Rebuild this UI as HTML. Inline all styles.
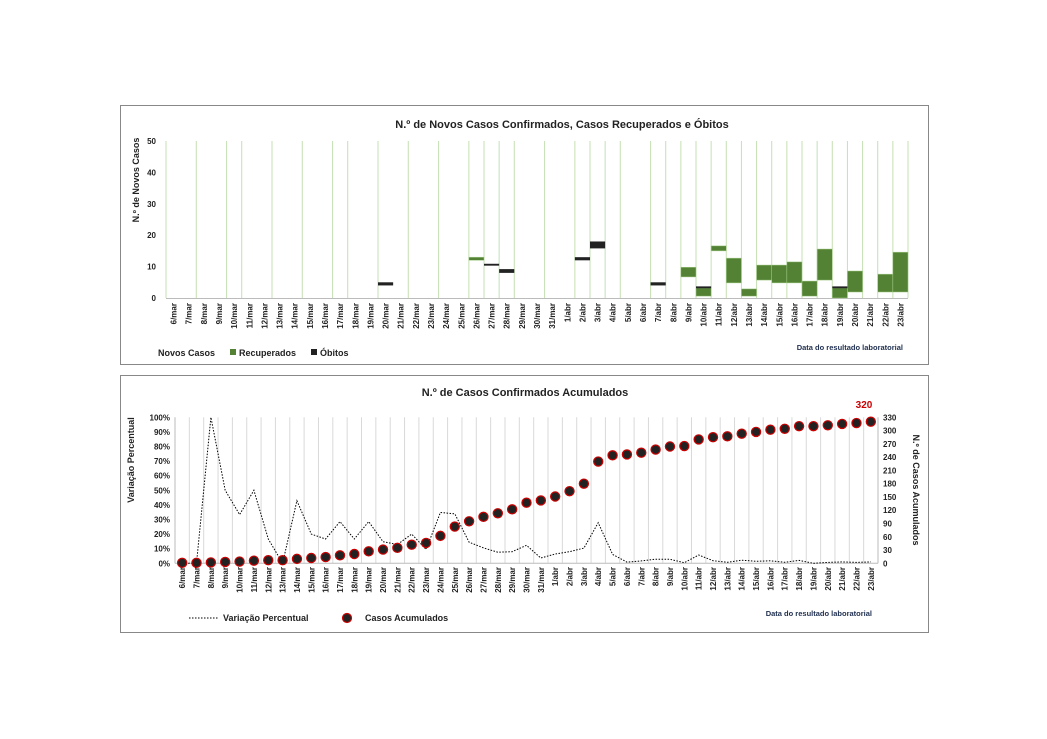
<!DOCTYPE html>
<html><head><meta charset="utf-8"><style>
html,body{margin:0;padding:0;background:#fff;}
svg{display:block;font-family:"Liberation Sans",sans-serif;}
</style></head><body>
<svg id="s" width="1047" height="739" viewBox="0 0 1047 739" xmlns="http://www.w3.org/2000/svg">
<rect x="120.5" y="105.5" width="808" height="259" fill="#fff" stroke="#888"/>
<rect x="120.5" y="375.5" width="808" height="257" fill="#fff" stroke="#888"/>
<text x="562" y="128" text-anchor="middle" font-size="11" font-weight="bold" fill="#222">N.º de Novos Casos Confirmados, Casos Recuperados e Óbitos</text>
<text x="525" y="396" text-anchor="middle" font-size="11" font-weight="bold" fill="#222">N.º de Casos Confirmados Acumulados</text>
<text transform="translate(139,180) rotate(-90)" text-anchor="middle" font-size="9" font-weight="bold" fill="#222">N.º de Novos Casos</text>
<text transform="translate(134,460) rotate(-90)" text-anchor="middle" font-size="9" font-weight="bold" fill="#222">Variação Percentual</text>
<text transform="translate(913,490) rotate(90)" text-anchor="middle" font-size="9" font-weight="bold" fill="#222">N.º de Casos Acumulados</text>
<text x="903" y="350" text-anchor="end" font-size="7.5" font-weight="bold" fill="#1f2f4f">Data do resultado laboratorial</text>
<text x="872" y="616" text-anchor="end" font-size="7.5" font-weight="bold" fill="#1f2f4f">Data do resultado laboratorial</text>
<text x="158" y="356" font-size="9" font-weight="bold" fill="#222">Novos Casos</text>
<rect x="230" y="349" width="6" height="6" fill="#548235"/>
<text x="239" y="356" font-size="9" font-weight="bold" fill="#222">Recuperados</text>
<rect x="311" y="349" width="6" height="6" fill="#222"/>
<text x="320" y="356" font-size="9" font-weight="bold" fill="#222">Óbitos</text>
<line x1="189" y1="618" x2="219" y2="618" stroke="#000" stroke-dasharray="1.5,1.5"/>
<text x="223" y="621" font-size="9" font-weight="bold" fill="#222">Variação Percentual</text>
<circle cx="347" cy="618" r="4.5" fill="#222" stroke="#c00" stroke-width="1.2"/>
<text x="365" y="621" font-size="9" font-weight="bold" fill="#222">Casos Acumulados</text>
<text x="864" y="408" text-anchor="middle" font-size="10" font-weight="bold" fill="#c00">320</text>
<g id="g"></g>
</svg>
<script>
var g=document.getElementById('g'),h='';
var labels=[];for(var i=6;i<=31;i++)labels.push(i+'/mar');for(var i=1;i<=23;i++)labels.push(i+'/abr');
// top chart
var X0=166,W=(908-166)/49,Y0=298,SY=(298-141)/50;
var present=[0,2,4,5,7,9,11,12,14,16,18,20,21,22,23,25,27,28,29,30];for(var k=32;k<=49;k++)present.push(k);
present.forEach(function(k){var x=X0+k*W;h+='<line x1="'+x+'" y1="141" x2="'+x+'" y2="298" stroke="#c5e0b4" stroke-width="1"/>';});
for(var v=0;v<=50;v+=10){var y=Y0-v*SY;h+='<text x="156" y="'+(y+3)+'" text-anchor="end" font-size="8" font-weight="bold" fill="#222">'+v+'</text>';}
h+='<line x1="166" y1="298.5" x2="908" y2="298.5" stroke="#bbb"/>';
var G=[[20,12,13],[34,6.7,9.8],[35,0.6,3.2],[36,15,16.6],[37,4.8,12.7],[38,0.6,2.9],[39,5.7,10.5],[40,4.8,10.5],[41,4.8,11.5],[42,0.6,5.4],[43,5.7,15.6],[44,0,3.2],[45,1.9,8.6],[47,1.9,7.6],[48,1.9,14.6]];
G.forEach(function(b){var y1=Y0-b[2]*SY,y2=Y0-b[1]*SY;h+='<rect x="'+(X0+b[0]*W)+'" y="'+y1+'" width="'+W+'" height="'+(y2-y1)+'" fill="#548235" stroke="#a9d18e" stroke-width="0.5"/>';});
var B=[[14,4,5],[21,10.3,10.9],[22,8,9.2],[27,12,13],[28,15.8,18],[32,4,5],[35,3.1,3.7],[44,3.1,3.7]];
B.forEach(function(b){var y1=Y0-b[2]*SY,y2=Y0-b[1]*SY;h+='<rect x="'+(X0+b[0]*W)+'" y="'+y1+'" width="'+W+'" height="'+(y2-y1)+'" fill="#222"/>';});
labels.forEach(function(l,i){var x=X0+(i+0.5)*W+3;h+='<text transform="translate('+x+',303) rotate(-90)" text-anchor="end" font-size="8" font-weight="bold" fill="#222">'+l+'</text>';});
// bottom chart
var X1=175,W2=(878-175)/49,Z=563.3,T=417.3,H=Z-T;
for(var k=1;k<49;k++){var x=X1+k*W2;h+='<line x1="'+x+'" y1="'+T+'" x2="'+x+'" y2="'+Z+'" stroke="#d9d9d9"/>';}
h+='<line x1="175" y1="'+T+'" x2="175" y2="'+Z+'" stroke="#bbb"/><line x1="878" y1="'+T+'" x2="878" y2="'+Z+'" stroke="#bbb"/><line x1="175" y1="'+Z+'" x2="878" y2="'+Z+'" stroke="#bbb"/>';
for(var p=0;p<=100;p+=10){var y=Z-p/100*H;h+='<text x="170" y="'+(y+3)+'" text-anchor="end" font-size="8" font-weight="bold" fill="#222">'+p+'%</text>';}
for(var v=0;v<=330;v+=30){var y=Z-v/330*H;h+='<text x="883" y="'+(y+3)+'" font-size="8" font-weight="bold" fill="#222">'+v+'</text>';}
var C=[1,1,2,3,4,6,7,7,10,12,14,18,21,27,31,35,42,46,62,83,95,105,113,122,137,142,151,163,180,230,244,246,250,257,264,265,280,285,287,293,297,302,304,310,310,312,315,317,320];
var pts=[];C.forEach(function(c,i){var pr=i==0?0:(c-C[i-1])/C[i-1];if(i==1)pr=0;pts.push((X1+(i+0.5)*W2).toFixed(1)+','+(Z-Math.min(pr,1)*H).toFixed(1));});
h+='<polyline points="'+pts.join(' ')+'" fill="none" stroke="#000" stroke-width="1" stroke-dasharray="1.5,1.5"/>';
C.forEach(function(c,i){h+='<circle cx="'+(X1+(i+0.5)*W2)+'" cy="'+(Z-c/330*H)+'" r="4.6" fill="#222" stroke="#c00" stroke-width="1.2"/>';});
labels.forEach(function(l,i){var x=X1+(i+0.5)*W2+3;h+='<text transform="translate('+x+',567) rotate(-90)" text-anchor="end" font-size="8" font-weight="bold" fill="#222">'+l+'</text>';});
g.innerHTML=h;
</script>
</body></html>
